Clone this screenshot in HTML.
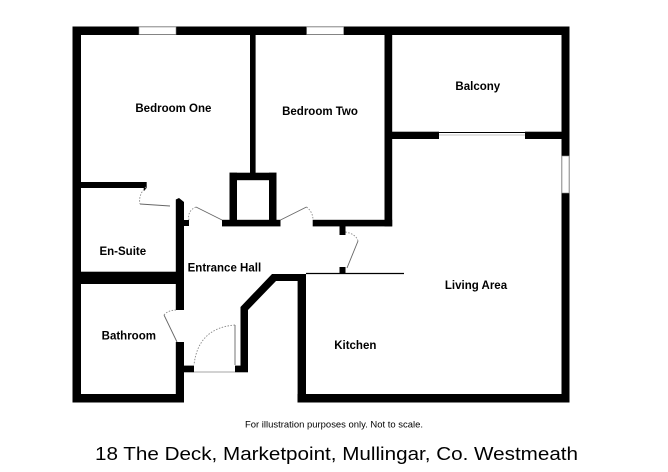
<!DOCTYPE html>
<html><head><meta charset="utf-8"><style>
html,body{margin:0;padding:0;background:#fff;}
svg{display:block;}
text{font-family:"Liberation Sans",Arial,sans-serif;}
.l{font-size:11.5px;font-weight:bold;text-anchor:middle;}
</style></head><body>
<svg width="668" height="472" viewBox="0 0 668 472" xmlns="http://www.w3.org/2000/svg">
<g fill="#000">
<!-- outer walls -->
<rect x="72.5" y="26.5" width="497" height="8.5"/>
<rect x="72.5" y="26.5" width="8.5" height="376"/>
<rect x="561.5" y="26.5" width="8" height="376"/>
<rect x="72.5" y="394" width="111.5" height="8.5"/>
<rect x="297.5" y="394" width="272" height="8.5"/>
<!-- bedroom divider -->
<rect x="250" y="30" width="5.6" height="145"/>
<!-- chimney box -->
<rect x="229.5" y="172.7" width="47" height="7.5"/>
<rect x="229.5" y="172.7" width="7.5" height="53"/>
<rect x="269" y="172.7" width="7.5" height="53"/>
<rect x="222" y="219.8" width="58.5" height="6.6"/>
<!-- bedroom two walls -->
<rect x="384.5" y="30" width="7.7" height="196.4"/>
<rect x="312.7" y="219.8" width="79.5" height="6.6"/>
<!-- balcony bottom -->
<rect x="388" y="131.7" width="51" height="7.3"/>
<rect x="525" y="131.7" width="44" height="7.3"/>
<!-- bedroom one / ensuite -->
<rect x="76" y="182" width="70.6" height="6"/>
<polygon points="146.6,182 146.6,188 144,191 143,182"/>
<!-- ensuite right wall / hall left -->
<polygon points="175.8,199.5 179,198 184,202 184,310 175.8,310"/>
<rect x="184" y="220" width="5" height="6"/>
<rect x="175.8" y="342" width="8.2" height="60"/>
<rect x="184" y="365.6" width="10" height="6.7"/>
<!-- ensuite/bathroom -->
<rect x="76" y="271.7" width="108" height="12.3"/>
<!-- entrance right jamb & angled wall -->
<rect x="235" y="365.6" width="13" height="6.7"/>
<polygon points="240.5,372 240.5,307 272,274 306,274 306,281 276,281 248,310 248,372"/>
<rect x="297.6" y="274" width="8.4" height="128"/>
<!-- nubs -->
<rect x="339.5" y="226" width="6" height="9"/>
<rect x="339.5" y="267" width="6" height="7"/>
</g>
<!-- counter line -->
<line x1="306" y1="273.5" x2="404" y2="273.5" stroke="#000" stroke-width="1.2"/>
<!-- windows -->
<g fill="#fff" stroke="#888" stroke-width="0.6">
<rect x="139" y="27" width="37" height="7.5"/>
<rect x="306.6" y="27" width="37" height="7.5"/>
<rect x="562" y="156" width="7" height="37"/>
</g>
<rect x="439" y="131.7" width="86" height="7.3" fill="#fff"/>
<line x1="439" y1="132.5" x2="525" y2="132.5" stroke="#000" stroke-width="1"/>
<line x1="439" y1="135" x2="525" y2="135" stroke="#888" stroke-width="0.6"/>
<line x1="194" y1="372" x2="235" y2="372" stroke="#888" stroke-width="0.8"/>
<!-- doors -->
<g fill="none" stroke="#666" stroke-width="0.9">
<line x1="222" y1="220" x2="196" y2="207"/>
<line x1="280.5" y1="220" x2="306.5" y2="207"/>
<line x1="140" y1="204" x2="170" y2="206"/>
<line x1="347" y1="268" x2="358" y2="241"/>
<line x1="177" y1="342" x2="164" y2="315"/>
<line x1="235" y1="365" x2="235" y2="325"/>
</g>
<g fill="none" stroke="#888" stroke-width="0.9" stroke-dasharray="1.5,1.5">
<path d="M196,207 Q187,211 189,220"/>
<path d="M306.5,207 Q313,212 313,220"/>
<path d="M146,187 Q138,195 140,204"/>
<path d="M358,241 Q356,234 345.5,232"/>
<path d="M164,315 Q168,310 177,310"/>
<path d="M235,325 Q198,328 194,365"/>
</g>
<!-- labels -->
<g class="l">
<text class="l" x="173.4" y="112">Bedroom One</text>
<text class="l" x="320" y="115">Bedroom Two</text>
<text class="l" x="477.8" y="90">Balcony</text>
<text class="l" x="122.8" y="255">En-Suite</text>
<text class="l" x="224.4" y="271.5">Entrance Hall</text>
<text class="l" x="476" y="289">Living Area</text>
<text class="l" x="128.8" y="339.5">Bathroom</text>
<text class="l" x="355.3" y="349">Kitchen</text>
</g>
<text x="334" y="427.5" font-size="9" text-anchor="middle" textLength="178" lengthAdjust="spacingAndGlyphs">For illustration purposes only. Not to scale.</text>
<text x="95" y="460" font-size="18" textLength="483" lengthAdjust="spacingAndGlyphs">18 The Deck, Marketpoint, Mullingar, Co. Westmeath</text>
</svg>
</body></html>
